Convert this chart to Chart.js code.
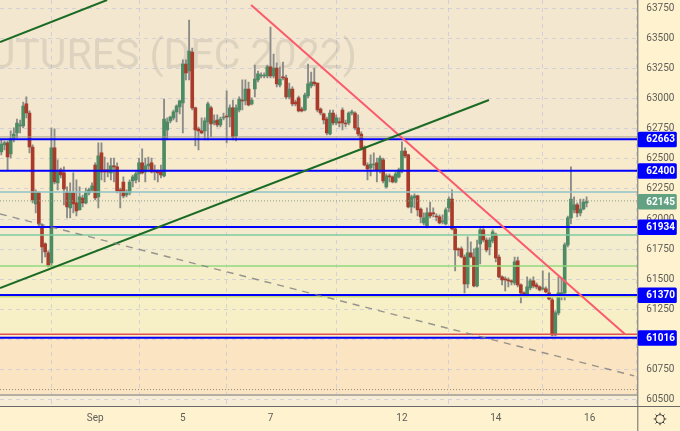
<!DOCTYPE html>
<html><head><meta charset="utf-8">
<style>html,body{margin:0;padding:0;background:#fff3cf}canvas{display:block}</style>
<script src="https://cdn.jsdelivr.net/npm/chart.js@4/dist/chart.umd.min.js"></script>
</head><body><canvas id="c" width="680" height="431"></canvas>
<script>
const opens=[62557,62615,62632,62540,62673,62714,62772,62772,62955,62880,62598,62126,62217,61943,61794,61720,61637,62590,62300,62408,62383,62225,62093,62217,62134,62076,62175,62134,62217,62242,62449,62184,62549,62408,62408,62383,62441,62433,62242,62308,62200,62217,62317,62325,62375,62466,62391,62441,62466,62399,62391,62391,62358,62739,62814,62839,62889,62930,62963,63286,63228,63386,62922,62748,62731,62731,62806,62922,62797,62822,62781,62839,62855,62847,62922,62690,62905,62988,62980,63079,62955,63079,63154,63187,63187,63187,63262,63187,63253,63112,63179,63170,63013,63079,62971,63005,62913,62905,63021,63104,63137,63129,62913,62872,62830,62706,62880,62797,62806,62905,62797,62797,62880,62880,62756,62706,62590,62449,62424,62449,62466,62399,62491,62267,62358,62350,62308,62350,62399,62565,62532,62101,62175,62192,62084,61968,61943,62051,62051,62026,62018,61977,61960,62093,62167,61919,61753,61753,61686,61463,61720,61686,61446,61794,61910,61827,61769,61819,61869,61686,61521,61504,61496,61488,61471,61653,61454,61388,61363,61429,61488,61454,61438,61421,61421,61388,61330,61040,61222,61380,61388,61786,62010,62076,62118,62051,62084,62134];
const highs=[62656,62648,62648,62731,62756,62830,62822,62971,63013,62897,62615,62242,62225,61960,61803,61736,62756,62748,62491,62424,62433,62267,62300,62383,62325,62267,62200,62258,62258,62300,62466,62632,62632,62515,62466,62507,62507,62466,62258,62350,62242,62325,62366,62391,62507,62582,62507,62515,62507,62449,62408,62449,62996,62839,62855,62905,62947,62988,63320,63320,63651,63419,62930,62764,62839,62839,62971,62938,62864,62864,62847,62880,63063,62947,62988,62947,63013,63154,63154,63137,63005,63278,63228,63212,63212,63278,63593,63369,63295,63262,63303,63195,63129,63096,62988,63021,62930,63046,63286,63220,63253,63129,62922,62880,62847,62905,62905,62864,62839,62922,62822,62889,62905,62889,62864,62723,62607,62466,62532,62549,62507,62524,62507,62375,62375,62358,62391,62424,62640,62590,62540,62200,62209,62200,62093,62051,62093,62142,62093,62043,62035,62035,62093,62184,62242,61927,61761,61769,61703,61852,61811,61753,61827,61935,61943,61844,61844,61910,61885,61703,61529,61521,61512,61496,61686,61686,61463,61396,61521,61504,61521,61471,61446,61570,61438,61554,61347,61239,61521,61512,61803,62026,62433,62184,62134,62167,62167,62184];
const lows=[62532,62574,62408,62507,62640,62673,62714,62756,62839,62549,62134,62051,61935,61637,61686,61604,61604,62292,62242,62341,62118,62010,62010,62051,62026,62076,62101,62126,62200,62225,62159,62093,62325,62308,62350,62325,62308,62217,62093,62175,62184,62200,62267,62300,62308,62375,62308,62391,62383,62325,62308,62341,62350,62656,62797,62822,62806,62872,62714,63154,63154,62905,62607,62574,62706,62656,62656,62681,62781,62764,62764,62822,62632,62764,62656,62648,62889,62905,62947,62938,62947,63013,63137,63170,63170,63170,63170,63170,63096,63096,63154,62996,62996,62938,62938,62889,62889,62897,63005,63087,63104,62889,62864,62789,62698,62698,62781,62781,62764,62739,62764,62781,62864,62739,62690,62574,62441,62325,62358,62408,62308,62383,62300,62258,62308,62300,62300,62341,62383,62507,62093,62051,62093,62026,61968,61952,61927,62010,62018,61985,61960,61960,61952,62060,61910,61570,61695,61678,61388,61429,61678,61438,61438,61628,61811,61728,61703,61803,61645,61512,61454,61405,61438,61454,61454,61438,61305,61355,61355,61413,61429,61421,61405,61413,61388,61330,61032,61032,61206,61330,61330,61769,61960,62051,62018,62026,62076,62101];
const closes=[62623,62632,62515,62665,62706,62797,62781,62938,62880,62598,62159,62225,61960,61769,61728,61612,62590,62308,62391,62366,62250,62101,62217,62126,62068,62184,62134,62217,62242,62275,62175,62524,62391,62391,62391,62441,62433,62234,62225,62192,62225,62308,62350,62375,62466,62383,62441,62457,62391,62391,62383,62366,62830,62806,62847,62889,62938,62980,63286,63212,63394,62922,62739,62731,62714,62814,62955,62789,62814,62781,62830,62847,62847,62922,62681,62922,62996,62980,63079,62947,62988,63162,63204,63195,63195,63262,63187,63253,63121,63162,63170,63013,63079,62955,62955,62897,62897,63029,63121,63137,63121,62905,62880,62822,62714,62880,62797,62839,62797,62797,62789,62880,62889,62756,62706,62590,62449,62416,62457,62457,62408,62507,62317,62358,62350,62308,62375,62408,62565,62524,62101,62184,62192,62076,62018,62010,62051,62026,62043,62018,61968,61985,62076,62167,61919,61744,61744,61686,61463,61720,61686,61446,61761,61910,61827,61744,61827,61894,61678,61521,61496,61496,61488,61479,61645,61454,61388,61371,61438,61488,61446,61438,61413,61429,61396,61338,61040,61222,61388,61388,61786,62010,62167,62118,62051,62084,62142,62145];

const xTickIndex=[30,58,86,128,158,188];
const xTickLabels=['Sep','5','7','12','14','16'];
const yTickValues=[63750,63500,63250,63000,62750,62500,62250,62000,61750,61500,61250,61000,60750,60500];

const blueLevels=[62663,62400,61934,61370,61016];
const lastPrice=62145;
const greyLevel=62681, tealLevel=62225, mintLevel=61869, limeLevel=61612, oliveLevel=61355, redLevel=61045, dottedHigh=62151, dottedLow=60586, bottomLevel=60542;

const greenTrendA=[[-0.42,63469],[33.8,63817]];
const greenTrendB=[[-0.42,61429],[155.8,62988]];
const redTrend=[[79.8,63776],[199.3,61045]];
const dashedTrend=[[-0.42,62043],[202.2,60700]];

const zoneEdges=[63817,62675,62225,61869,61612,61355,61030,60542,60450];
const zoneColors=['#f3e7cf','#f8ebcc','#f4ebcf','#f3edcd','#f5eec9','#f7efc5','#fbe4c2','#f7ecd5'];

const xMin=-0.42,xMax=203.2,yMin=60450,yMax=63817;
const UP='#4c8b63',DOWN='#a83b2a';

const idx=opens.map((_,i)=>i);
const hline=(v,color,w,dash)=>({type:'line',data:[{x:xMin,y:v},{x:xMax,y:v}],borderColor:color,borderWidth:w,borderDash:dash||[],pointRadius:0,order:1});
const seg=(pts,color,w,dash)=>({type:'line',data:pts.map(p=>({x:p[0],y:p[1]})),borderColor:color,borderWidth:w,borderDash:dash||[],pointRadius:0,order:0});

const datasets=[
 {type:'bar',data:idx.map(i=>({x:i,y:[lows[i],highs[i]]})),backgroundColor:'#8b8b88',barThickness:1.2,grouped:false,order:4},
 {type:'bar',data:idx.map(i=>({x:i,y:[Math.min(opens[i],closes[i]),Math.max(opens[i],closes[i])+ (opens[i]===closes[i]?6:0)]})),backgroundColor:idx.map(i=>closes[i]>=opens[i]?UP:DOWN),barThickness:3,grouped:false,order:3},
 hline(greyLevel,'#a59f90',1),
 hline(tealLevel,'#8fc3c9',1.5),
 hline(mintLevel,'#7fcb9f',1.5),
 hline(limeLevel,'#92d87c',1.5),
 hline(oliveLevel,'#c9d97a',1.5),
 hline(redLevel,'#e2504f',1.5),
 hline(dottedHigh,'#8f9c80',1,[1,2]),
 hline(dottedLow,'#8f8878',1,[1,2]),
 hline(bottomLevel,'#b3afa2',2),
 seg(dashedTrend,'rgba(125,125,125,.8)',1.4,[7,6]),
 ...blueLevels.map(v=>hline(v,'#0000ff',2)),
 seg(greenTrendA,'#1b6b24',2),
 seg(greenTrendB,'#1b6b24',2),
 seg(redTrend,'#fa5a6c',2)
];

const chrome={
 id:'chrome',
 beforeDraw(ch){
  const c=ch.ctx,{left,right}=ch.chartArea,y=ch.scales.y;
  c.save();c.fillStyle='#fff3cf';c.fillRect(0,0,ch.width,ch.height);
  zoneColors.forEach((col,i)=>{
   const a=y.getPixelForValue(zoneEdges[i]),b=y.getPixelForValue(zoneEdges[i+1]);
   c.fillStyle=col;c.fillRect(left,a,right-left,b-a);
  });
  c.restore();
 },
 beforeDatasetsDraw(ch){
  const c=ch.ctx,{left,right,top,bottom}=ch.chartArea;
  c.save();c.beginPath();c.rect(left,top,right-left,bottom-top);c.clip();
  c.font='41px Roboto';c.textAlign='right';c.textBaseline='alphabetic';
  c.fillStyle='rgba(120,115,110,.17)';
  c.fillText('FUTURES (DEC 2022)',357,68);
  c.restore();
 },
 afterDraw(ch){
  const c=ch.ctx,{right,bottom}=ch.chartArea,y=ch.scales.y;
  c.save();
  c.strokeStyle='#6a6a66';c.lineWidth=1;
  c.beginPath();c.moveTo(0,bottom+.5);c.lineTo(ch.width,bottom+.5);
  c.moveTo(right+.5,0);c.lineTo(right+.5,ch.height);c.stroke();
  const tag=(v,col)=>{
   const p=y.getPixelForValue(v);
   c.fillStyle=col;c.beginPath();c.roundRect(right+.5,p-7.5,39,15.5,1.5);c.fill();
   c.fillStyle='#fff';c.font='bold 10px Roboto';c.textAlign='left';c.textBaseline='middle';
   c.fillText(String(v),right+9,p+.7);
  };
  blueLevels.forEach(v=>tag(v,'#0000ff'));
  tag(lastPrice,'#62a283');
  const gx=660,gy=419;
  c.strokeStyle='#3a3a3a';c.lineWidth=1;
  c.beginPath();c.arc(gx,gy,4.3,0,Math.PI*2);c.stroke();
  for(let k=0;k<8;k++){const a=k*Math.PI/4;
   c.beginPath();c.moveTo(gx+4.3*Math.cos(a),gy+4.3*Math.sin(a));
   c.lineTo(gx+6.3*Math.cos(a),gy+6.3*Math.sin(a));c.stroke();}
  c.restore();
 }
};

const noPad=a=>{a.paddingTop=0;a.paddingBottom=0;a.paddingLeft=0;a.paddingRight=0};

new Chart(document.getElementById('c'),{
 type:'bar',
 data:{datasets},
 plugins:[chrome],
 options:{
  responsive:false,animation:false,
  layout:{padding:0},
  plugins:{legend:{display:false},tooltip:{enabled:false}},
  scales:{
   x:{type:'linear',min:xMin,max:xMax,offset:false,
    afterBuildTicks:a=>{a.ticks=xTickIndex.map(v=>({value:v}))},
    afterFit:a=>{a.height=25;noPad(a)},
    ticks:{autoSkip:false,maxRotation:0,minRotation:0,padding:6,color:'#5c5c58',font:{family:'Roboto',size:10},
     callback:v=>xTickLabels[xTickIndex.indexOf(v)]},
    grid:{color:'rgba(190,192,220,.6)',tickLength:0,drawTicks:false},
    border:{display:false,dash:[4,4]}
   },
   y:{type:'linear',position:'right',min:yMin,max:yMax,
    afterBuildTicks:a=>{a.ticks=yTickValues.map(v=>({value:v}))},
    afterFit:a=>{a.width=42.7;noPad(a)},
    ticks:{autoSkip:false,padding:9,color:'#5c5c58',font:{family:'Roboto',size:10},callback:v=>String(v)},
    grid:{color:'rgba(190,192,220,.6)',drawTicks:false},
    border:{display:false,dash:[4,4]}
   }
  }
 }
});
</script></body></html>
